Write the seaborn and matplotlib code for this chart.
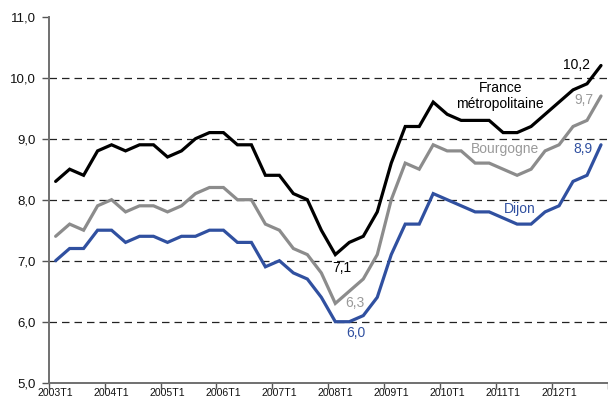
import numpy as np
import pandas as pd
import matplotlib
matplotlib.use("Agg")
import matplotlib.pyplot as plt
from matplotlib.ticker import FixedLocator, FuncFormatter
import seaborn as sns

# Quarterly unemployment rates (%), 2003T1 .. 2012T4
years = list(range(2003, 2013))
quarters = [f"{y}T{q}" for y in years for q in range(1, 5)]

france = [8.3, 8.5, 8.4, 8.8, 8.9, 8.8, 8.9, 8.9, 8.7, 8.8, 9.0, 9.1,
          9.1, 8.9, 8.9, 8.4, 8.4, 8.1, 8.0, 7.5, 7.1, 7.3, 7.4, 7.8,
          8.6, 9.2, 9.2, 9.6, 9.4, 9.3, 9.3, 9.3, 9.1, 9.1, 9.2, 9.4,
          9.6, 9.8, 9.9, 10.2]
bourgogne = [7.4, 7.6, 7.5, 7.9, 8.0, 7.8, 7.9, 7.9, 7.8, 7.9, 8.1, 8.2,
             8.2, 8.0, 8.0, 7.6, 7.5, 7.2, 7.1, 6.8, 6.3, 6.5, 6.7, 7.1,
             8.0, 8.6, 8.5, 8.9, 8.8, 8.8, 8.6, 8.6, 8.5, 8.4, 8.5, 8.8,
             8.9, 9.2, 9.3, 9.7]
dijon = [7.0, 7.2, 7.2, 7.5, 7.5, 7.3, 7.4, 7.4, 7.3, 7.4, 7.4, 7.5,
         7.5, 7.3, 7.3, 6.9, 7.0, 6.8, 6.7, 6.4, 6.0, 6.0, 6.1, 6.4,
         7.1, 7.6, 7.6, 8.1, 8.0, 7.9, 7.8, 7.8, 7.7, 7.6, 7.6, 7.8,
         7.9, 8.3, 8.4, 8.9]

series_names = ["France métropolitaine", "Bourgogne", "Dijon"]
line_colors = ["#000000", "#8c8c8c", "#3050a0"]
text_colors = ["#000000", "#9a9a9a", "#3050a0"]

df = pd.DataFrame({
    "idx": np.tile(np.arange(len(quarters)), 3),
    "taux": france + bourgogne + dijon,
    "zone": np.repeat(series_names, len(quarters)),
})

sns.set_style("white")
plt.rcParams["font.family"] = ["Liberation Sans", "DejaVu Sans"]

fig = plt.figure(figsize=(6.08, 4.01), dpi=100)
ax = fig.add_axes([0.080, 0.0456, 0.920, 0.9128])

sns.lineplot(data=df, x="idx", y="taux", hue="zone", hue_order=series_names,
             palette=dict(zip(series_names, line_colors)), linewidth=2.3,
             legend=False, ax=ax, zorder=3)
for ln in ax.get_lines():
    ln.set_solid_joinstyle("miter")

ax.set_xlim(-0.5, len(quarters) - 0.5)
ax.set_ylim(5.0, 11.0)

# y axis: French decimal comma
ax.set_yticks(np.arange(5, 12, 1))
ax.yaxis.set_major_formatter(FuncFormatter(lambda v, p: f"{v:.1f}".replace(".", ",")))
for g in range(6, 11):
    ax.axhline(g, color="#222222", linewidth=0.9, linestyle=(0, (6, 4)), zorder=1)

# x axis: tick marks between years, labels on first quarter of each year
ax.xaxis.set_major_locator(FixedLocator(np.arange(-0.5, len(quarters), 4)))
ax.xaxis.set_major_formatter(FuncFormatter(lambda v, p: ""))
first_q = list(range(0, len(quarters), 4))
ax.xaxis.set_minor_locator(FixedLocator(first_q))
ax.xaxis.set_minor_formatter(FuncFormatter(lambda v, p: quarters[int(round(v))]))
ax.tick_params(axis="x", which="major", direction="out", length=4, width=1,
               color="#555555", bottom=True)
ax.tick_params(axis="x", which="minor", length=0, pad=4, labelsize=7.6,
               labelcolor="#111111", bottom=True)
ax.tick_params(axis="y", direction="out", length=5, width=1, color="#555555",
               left=True, pad=4, labelsize=9.5, labelcolor="#111111")
ax.set_xlabel("")
ax.set_ylabel("")

for s in ["top", "right"]:
    ax.spines[s].set_visible(False)
for s in ["left", "bottom"]:
    ax.spines[s].set_color("#707070")
    ax.spines[s].set_linewidth(1.4)

fmt = lambda v: f"{v:.1f}".replace(".", ",")
fs = 10

# end values
ax.text(37.26, 10.2, fmt(france[-1]), ha="center", va="center", fontsize=fs, color=text_colors[0])
ax.text(37.8, 9.64, fmt(bourgogne[-1]), ha="center", va="center", fontsize=fs, color=text_colors[1])
ax.text(37.73, 8.83, fmt(dijon[-1]), ha="center", va="center", fontsize=fs, color=text_colors[2])

# minimum values
ax.text(20.43, 6.88, fmt(min(france)), ha="center", va="center", fontsize=fs, color=text_colors[0])
ax.text(21.38, 6.31, fmt(min(bourgogne)), ha="center", va="center", fontsize=fs, color=text_colors[1])
ax.text(21.5, 5.82, fmt(min(dijon)), ha="center", va="center", fontsize=fs, color=text_colors[2])

# series names
ax.text(31.8, 9.70, "France\nmétropolitaine", ha="center", va="center", fontsize=fs,
        color=text_colors[0], linespacing=1.15)
ax.text(32.16, 8.83, "Bourgogne", ha="center", va="center", fontsize=fs, color=text_colors[1])
ax.text(33.16, 7.85, "Dijon", ha="center", va="center", fontsize=fs, color=text_colors[2])

fig.savefig("out.png", dpi=100)
